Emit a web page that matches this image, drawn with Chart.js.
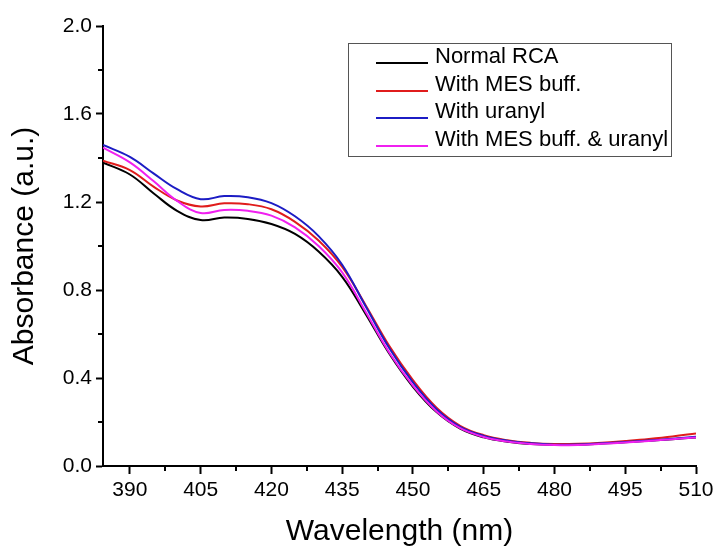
<!DOCTYPE html>
<html>
<head>
<meta charset="utf-8">
<script src="https://cdn.jsdelivr.net/npm/chart.js@4.4.1/dist/chart.umd.min.js"></script>
<style>
  html, body { margin:0; padding:0; background:#fff; }
  #wrap { position:relative; width:718px; height:548px; }
  #legend { position:absolute; left:348px; top:43px; width:324px; height:114px; border:1px solid #555; box-sizing:border-box;
    font-family:"Liberation Sans", Arial, sans-serif; font-size:22px; color:#000; }
  #legend .row { position:absolute; left:0; height:22px; line-height:22px; white-space:nowrap; }
  #legend .sw { position:absolute; left:27px; width:52px; height:2px; }
  #legend .tx { position:absolute; left:86px; top:0; }
</style>
</head>
<body>
<div id="wrap">
  <canvas id="chart" width="718" height="548"></canvas>
  <div id="legend"></div>
</div>
<script>
// data
const wavelength = [384.3, 390, 395, 400, 405, 410, 415, 420, 425, 430, 435, 440, 445, 450, 455, 460, 465, 470, 475, 480, 485, 490, 495, 500, 505, 510];
const normalRCA  = [1.379, 1.325, 1.24, 1.16, 1.118, 1.129, 1.123, 1.1, 1.055, 0.975, 0.86, 0.69, 0.51, 0.36, 0.245, 0.17, 0.13, 0.11, 0.1, 0.096, 0.097, 0.102, 0.108, 0.115, 0.122, 0.13];
const withMES    = [1.388, 1.345, 1.27, 1.207, 1.18, 1.194, 1.19, 1.167, 1.11, 1.025, 0.905, 0.73, 0.545, 0.39, 0.265, 0.183, 0.14, 0.117, 0.105, 0.1, 0.101, 0.106, 0.114, 0.123, 0.134, 0.148];
const withUranyl = [1.459, 1.405, 1.33, 1.258, 1.213, 1.227, 1.222, 1.195, 1.135, 1.045, 0.915, 0.725, 0.535, 0.38, 0.258, 0.178, 0.137, 0.115, 0.103, 0.097, 0.098, 0.103, 0.109, 0.116, 0.124, 0.133];
const withBoth   = [1.447, 1.38, 1.295, 1.205, 1.15, 1.164, 1.16, 1.138, 1.085, 1.0, 0.88, 0.70, 0.515, 0.365, 0.248, 0.172, 0.132, 0.111, 0.1, 0.095, 0.096, 0.101, 0.107, 0.114, 0.122, 0.13];

const seriesNames = ['Normal RCA', 'With MES buff.', 'With uranyl', 'With MES buff. & uranyl'];
const seriesColors = ['#000000', '#e01c1c', '#1c1cc4', '#f020f0'];

const xTicks = [390, 405, 420, 435, 450, 465, 480, 495, 510];
const xMinor = [397.5, 412.5, 427.5, 442.5, 457.5, 472.5, 487.5, 502.5];
const yTicks = [0, 0.4, 0.8, 1.2, 1.6, 2.0];
const yMinor = [0.2, 0.6, 1.0, 1.4, 1.8];

const $ = id => document.getElementById(id);
const FONT = '"Liberation Sans", Arial, sans-serif';
const toXY = ys => ys.map((v, i) => ({ x: wavelength[i], y: v }));

// minor ticks (outward, shorter than major)
const minorTicks = {
  id: 'minorTicks',
  afterDraw(chart){
    const { ctx, chartArea, scales:{ x, y } } = chart;
    ctx.save();
    ctx.strokeStyle = '#000';
    ctx.lineWidth = 2;
    ctx.beginPath();
    xMinor.forEach(v => {
      const px = Math.round(x.getPixelForValue(v));
      ctx.moveTo(px, chartArea.bottom); ctx.lineTo(px, chartArea.bottom + 5);
    });
    yMinor.forEach(v => {
      const py = Math.round(y.getPixelForValue(v));
      ctx.moveTo(chartArea.left, py); ctx.lineTo(chartArea.left - 5, py);
    });
    ctx.stroke();
    ctx.restore();
  }
};

const datasets = [normalRCA, withMES, withUranyl, withBoth].map((d, i) => ({
  label: seriesNames[i],
  data: toXY(d),
  borderColor: seriesColors[i],
  borderWidth: 2,
  pointRadius: 0,
  fill: false,
  tension: 0.4,
  order: 3 - i
}));

const chart = new Chart($('chart'), {
  type: 'line',
  data: { datasets },
  options: {
    responsive: false,
    animation: false,
    layout: { padding: { top: 26, right: 22, left: 0, bottom: 0 } },
    plugins: { legend: { display: false }, tooltip: { enabled: false } },
    scales: {
      x: {
        type: 'linear', min: 384.3, max: 510,
        afterBuildTicks: s => { s.ticks = xTicks.map(v => ({ value: v })); },
        afterFit: s => { s.height = 82; },
        grid: { drawOnChartArea: false, drawTicks: true, tickLength: 8, tickColor: '#000', tickWidth: 2 },
        border: { display: true, color: '#000', width: 2 },
        ticks: { color: '#000', font: { family: FONT, size: 21 }, padding: 4, maxRotation: 0, autoSkip: false,
          callback: v => String(v) },
        title: { display: true, text: 'Wavelength (nm)', color: '#000', font: { family: FONT, size: 30 }, padding: { top: 0, bottom: -2 } }
      },
      y: {
        min: 0, max: 2,
        afterBuildTicks: s => { s.ticks = yTicks.map(v => ({ value: v })); },
        afterFit: s => { s.width = 103; },
        grid: { drawOnChartArea: false, drawTicks: true, tickLength: 7, tickColor: '#000', tickWidth: 2 },
        border: { display: true, color: '#000', width: 2 },
        ticks: { color: '#000', font: { family: FONT, size: 21 }, padding: 4, callback: v => Number(v).toFixed(1) },
        title: { display: true, text: 'Absorbance (a.u.)', color: '#000', font: { family: FONT, size: 30 }, padding: { top: 7, bottom: 0 } }
      }
    }
  },
  plugins: [minorTicks]
});

// legend box inside the plot
const rowTops = [1, 29, 56, 84];
seriesNames.forEach((name, i) => {
  const row = document.createElement('div');
  row.className = 'row';
  row.style.top = rowTops[i] + 'px';
  row.innerHTML = `<span class="sw" style="top:17px;background:${seriesColors[i]}"></span><span class="tx">${name.replace('&', '&amp;')}</span>`;
  $('legend').appendChild(row);
});
</script>
</body>
</html>
